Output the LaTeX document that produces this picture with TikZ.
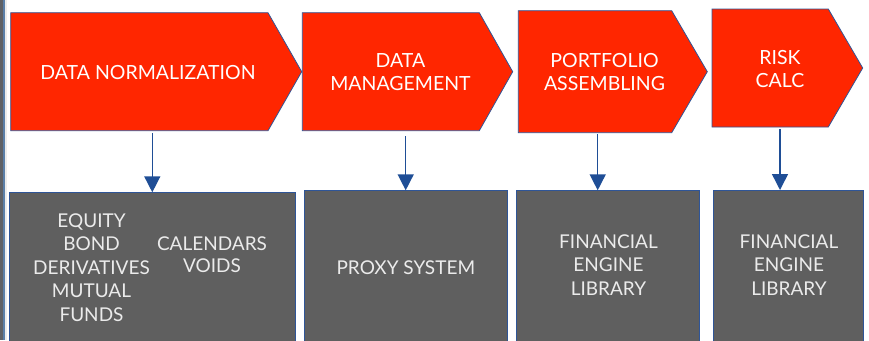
\documentclass[tikz,border=0pt]{standalone}
\usepackage{fontspec}
\setmainfont{Lato}
\usetikzlibrary{arrows.meta}
\definecolor{hred}{HTML}{FF2600}
\definecolor{bgray}{HTML}{5F5F5F}
\definecolor{eblue}{HTML}{2F5597}
\definecolor{ablue}{HTML}{1F4E96}
\definecolor{edgegray}{HTML}{5F6166}
\definecolor{edgeblue}{HTML}{5B7FA8}
\tikzset{
  stage/.style={fill=hred, draw=eblue, line width=0.8pt},
  lib/.style={fill=bgray, draw=eblue, line width=1pt, outer sep=0pt, inner sep=0pt, anchor=north west},
  htext/.style={text=white, align=center, font=\fontsize{19.5}{22.7}\selectfont, inner sep=0pt},
  btext/.style={text=white!92!black, align=center, font=\fontsize{19}{23.5}\selectfont, inner sep=0pt},
  link/.style={draw=ablue, line width=1.5pt, -{Triangle[length=16pt,width=16pt]}},
}
\begin{document}
\begin{tikzpicture}[x=1pt,y=-1pt]
\useasboundingbox (0,0) rectangle (869,340);
\clip (0,0) rectangle (869,340);
% left edge strip
\fill[edgegray] (0,0) rectangle (3,340);
\fill[edgeblue] (3,0) rectangle (4.5,340);
\fill[gray!15] (4.5,0) rectangle (7,340);
% stages
\path[stage] (10.7,12.7) -- (268,12.7) -- (301.7,71.7) -- (268,130.7) -- (10.7,130.7) -- cycle;
\path[stage] (302.3,12.7) -- (479.3,12.7) -- (512.7,71.7) -- (479.3,130.7) -- (302.3,130.7) -- cycle;
\path[stage] (518.3,10.7) -- (671.7,10.7) -- (707.3,71.7) -- (671.7,132.7) -- (518.3,132.7) -- cycle;
\path[stage] (712,9) -- (828.3,9) -- (862.7,68) -- (828.3,127) -- (712,127) -- cycle;
\node[htext] (t1) at (148,72.7) {DATA NORMALIZATION};
\node[htext] (t2) at (400.5,72) {DATA\\MANAGEMENT};
\node[htext] (t3) at (604.5,72) {PORTFOLIO\\ASSEMBLING};
\node[htext] (t4) at (780,68.7) {RISK\\CALC};
% library boxes
\node[lib, minimum width=286.7pt, minimum height=152.7pt] (b1) at (9,192.3) {};
\node[lib, minimum width=203.4pt, minimum height=154.7pt] (b2) at (304.3,190.3) {};
\node[lib, minimum width=182.3pt, minimum height=154.7pt] (b3) at (516.7,190.3) {};
\node[lib, minimum width=150pt, minimum height=155pt] (b4) at (713.3,190) {};
\node[btext] (l1a) at (91.5,267.5) {EQUITY\\BOND\\DERIVATIVES\\MUTUAL\\FUNDS};
\node[btext, font=\fontsize{19}{22.5}\selectfont] (l1b) at (212,254.5) {CALENDARS\\VOIDS};
\node[btext] (l2) at (405.8,267.5) {PROXY SYSTEM};
\node[btext] (l3) at (608.5,265) {FINANCIAL\\ENGINE\\LIBRARY};
\node[btext] (l4) at (789,265) {FINANCIAL\\ENGINE\\LIBRARY};
% connectors
\coordinate (s1) at (152.3,133.3);
\coordinate (s2) at (405.7,136);
\coordinate (s3) at (597.7,134);
\coordinate (s4) at (780,129.3);
\draw[link] (s1) -- (b1.north -| s1);
\draw[link] (s2) -- (b2.north -| s2);
\draw[link] (s3) -- (b3.north -| s3);
\draw[link] (s4) -- (b4.north -| s4);
\end{tikzpicture}
\end{document}
